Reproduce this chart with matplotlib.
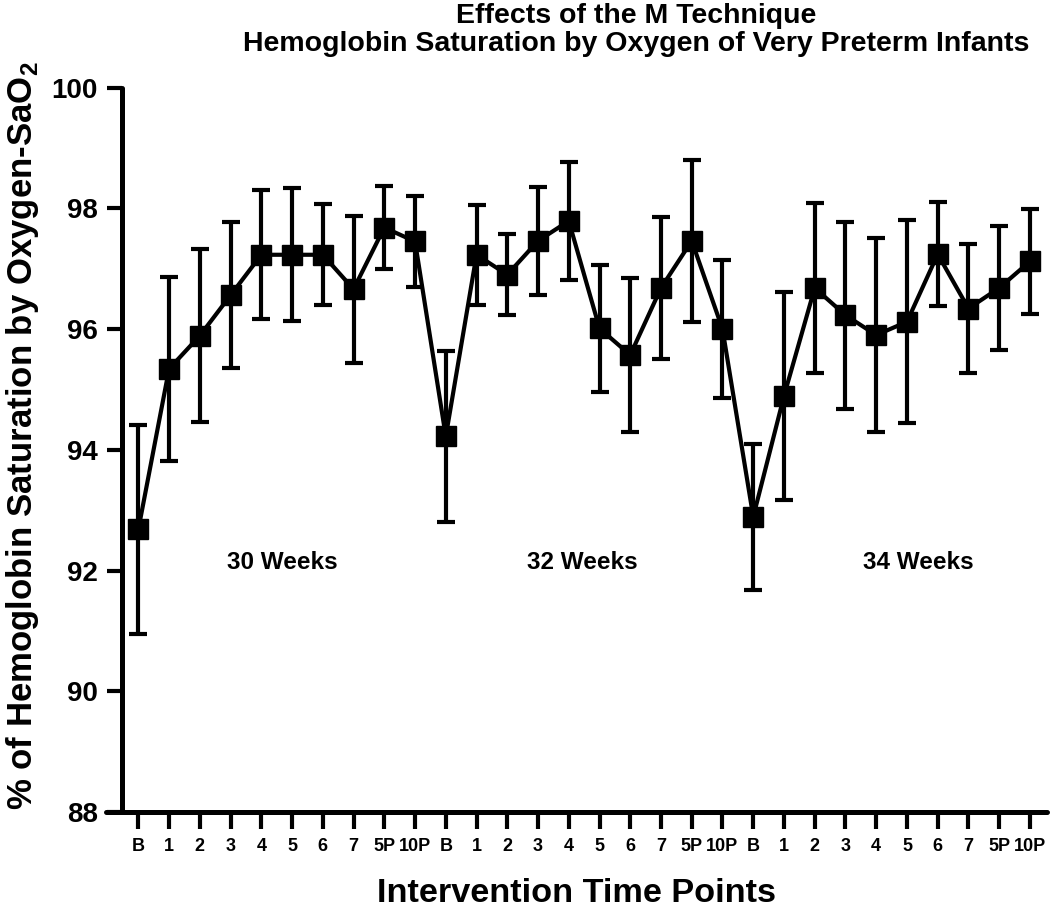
import numpy as np
import matplotlib
matplotlib.use("Agg")
from matplotlib import pyplot as plt

plt.rcParams['font.family'] = ['Liberation Sans', 'DejaVu Sans']
plt.rcParams['font.weight'] = 'bold'
plt.rcParams['mathtext.fontset'] = 'custom'
plt.rcParams['mathtext.rm'] = 'Liberation Sans:bold'
plt.rcParams['mathtext.bf'] = 'Liberation Sans:bold'

# time points per session, repeated for each gestational age
time_points = ['B', '1', '2', '3', '4', '5', '6', '7', '5P', '10P']
sessions = ['30 Weeks', '32 Weeks', '34 Weeks']

# mean SaO2 and error
mean_30 = [92.68, 95.34, 95.89, 96.56, 97.23, 97.23, 97.23, 96.66, 97.68, 97.45]
err_30 = [1.73, 1.53, 1.43, 1.21, 1.07, 1.10, 0.84, 1.22, 0.69, 0.76]
mean_32 = [94.22, 97.23, 96.90, 97.46, 97.79, 96.01, 95.57, 96.68, 97.46, 96.00]
err_32 = [1.41, 0.83, 0.67, 0.90, 0.97, 1.05, 1.27, 1.17, 1.34, 1.15]
mean_34 = [92.89, 94.89, 96.68, 96.23, 95.90, 96.12, 97.24, 96.34, 96.68, 97.12]
err_34 = [1.21, 1.73, 1.40, 1.55, 1.60, 1.68, 0.86, 1.07, 1.03, 0.87]

means = mean_30 + mean_32 + mean_34
errs = err_30 + err_32 + err_34
labels = time_points * 3
x = np.arange(len(means))

fig = plt.figure(figsize=(10.5, 9.07), dpi=100)
ax = fig.add_axes([0.101, 0.1047, 0.896, 0.7988])

ax.errorbar(x, means, yerr=errs, color='black', lw=3, marker='s', ms=15,
            elinewidth=3, capsize=6.5, capthick=3)

ax.set_xlim(-1.05, 29.55)
ax.set_ylim(88, 100)
ax.set_yticks([88, 90, 92, 94, 96, 98, 100])
ax.set_xticks(x)
ax.set_xticklabels(labels)

ax.spines['top'].set_visible(False)
ax.spines['right'].set_visible(False)
ax.spines['left'].set_position(('data', -0.54))
ax.spines['left'].set_linewidth(3.6)
ax.spines['bottom'].set_linewidth(3.6)
ax.spines['left'].set_capstyle('round')
ax.spines['bottom'].set_capstyle('round')
ax.tick_params(axis='both', width=3, direction='out')
ax.tick_params(axis='x', length=12, pad=7, labelsize=13)
ax.tick_params(axis='y', length=11, pad=6, labelsize=20)

# session labels
label_x = [4.67, 14.43, 25.36]
for lx, s in zip(label_x, sessions):
    ax.text(lx, 92.13, s, ha='center', va='center', fontsize=17.5, fontweight='bold')

ax.set_xlabel('Intervention Time Points', fontsize=24.7, fontweight='bold', labelpad=16)
fig.text(0.021, 0.52, r'% of Hemoglobin Saturation by Oxygen-SaO$_\mathbf{2}$',
         rotation=90, ha='center', va='center', fontsize=25, fontweight='bold')

fig.text(0.606, 0.982, 'Effects of the M Technique', ha='center', va='center',
         fontsize=20.5, fontweight='bold')
fig.text(0.606, 0.9515, 'Hemoglobin Saturation by Oxygen of Very Preterm Infants',
         ha='center', va='center', fontsize=20.5, fontweight='bold')

fig.savefig('out.png', dpi=100)
